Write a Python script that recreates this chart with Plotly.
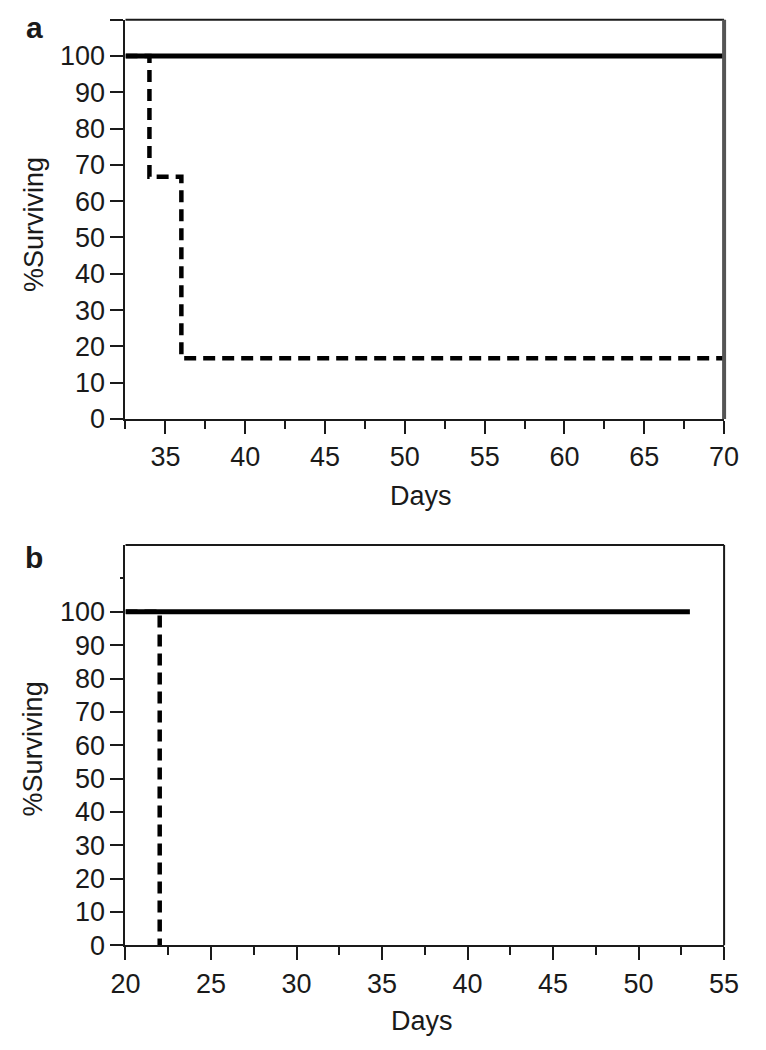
import plotly.graph_objects as go

# Panel a data
a_ctrl_days = [32.5, 70]
a_ctrl_surv = [100, 100]
a_trt_days = [32.5, 34, 36, 70]
a_trt_surv = [100, 66.7, 16.7, 16.7]

# Panel b data
b_ctrl_days = [20, 53]
b_ctrl_surv = [100, 100]
b_trt_days = [20, 22]
b_trt_surv = [100, 0]

a_xticks = [35, 40, 45, 50, 55, 60, 65, 70]
a_xminor = [32.5, 37.5, 42.5, 47.5, 52.5, 57.5, 62.5, 67.5]
b_xticks = [20, 25, 30, 35, 40, 45, 50, 55]
b_xminor = [22.5, 27.5, 32.5, 37.5, 42.5, 47.5, 52.5]
yticks = [0, 10, 20, 30, 40, 50, 60, 70, 80, 90, 100]

W, H = 766, 1050
FONT = "Liberation Sans, Arial, sans-serif"
TXT = "#1a1a1a"
FS = 27

fig = go.Figure()

dash = "12px,7px"
fig.add_trace(go.Scatter(x=a_trt_days, y=a_trt_surv, mode="lines", line_shape="hv",
                         line=dict(color="black", width=4.5, dash=dash), xaxis="x", yaxis="y", showlegend=False))
fig.add_trace(go.Scatter(x=a_ctrl_days, y=a_ctrl_surv, mode="lines",
                         line=dict(color="black", width=5), xaxis="x", yaxis="y", showlegend=False))
fig.add_trace(go.Scatter(x=b_trt_days, y=b_trt_surv, mode="lines", line_shape="hv",
                         line=dict(color="black", width=4.5, dash=dash), xaxis="x2", yaxis="y2", showlegend=False))
fig.add_trace(go.Scatter(x=b_ctrl_days, y=b_ctrl_surv, mode="lines",
                         line=dict(color="black", width=5), xaxis="x2", yaxis="y2", showlegend=False))

xdom = [115 / W, 738 / W]
ya_dom = [1 - 425 / H, 1 - 20 / H]
yb_dom = [1 - 959 / H, 1 - 553 / H]

common_ax = dict(showgrid=False, zeroline=False, showline=True, linecolor="#1a1a1a", linewidth=2,
                 ticks="outside", ticklen=13, tickwidth=2, tickcolor="#1a1a1a",
                 tickfont=dict(family=FONT, size=FS, color=TXT))

fig.update_layout(
    width=W, height=H, margin=dict(l=0, r=0, t=0, b=0),
    plot_bgcolor="white", paper_bgcolor="white",
    xaxis=dict(domain=xdom, range=[32.5, 70], tickvals=a_xticks, anchor="y",
               minor=dict(tickvals=a_xminor, ticklen=8, tickwidth=2, tickcolor="#1a1a1a", ticks="outside"),
               **common_ax),
    yaxis=dict(domain=ya_dom, range=[0, 110], tickvals=yticks + [110],
               ticktext=[str(v) for v in yticks] + [""], anchor="x", **common_ax),
    xaxis2=dict(domain=xdom, range=[20, 55], tickvals=b_xticks, anchor="y2",
                minor=dict(tickvals=b_xminor, ticklen=8, tickwidth=2, tickcolor="#1a1a1a", ticks="outside"),
                **common_ax),
    yaxis2=dict(domain=yb_dom, range=[0, 120], tickvals=yticks, anchor="x2",
                minor=dict(tickvals=[110], ticklen=3, tickwidth=2, tickcolor="#1a1a1a", ticks="outside"),
                **common_ax),
)

# frame lines (top and right)
fig.add_shape(type="line", xref="x domain", yref="y domain", x0=0, x1=1, y0=1, y1=1,
              line=dict(color="#1a1a1a", width=2))
fig.add_shape(type="line", xref="x domain", yref="y domain", x0=1, x1=1, y0=0, y1=1,
              line=dict(color="#555555", width=4))
fig.add_shape(type="line", xref="x2 domain", yref="y2 domain", x0=0, x1=1, y0=1, y1=1,
              line=dict(color="#1a1a1a", width=2))
fig.add_shape(type="line", xref="x2 domain", yref="y2 domain", x0=1, x1=1, y0=0, y1=1,
              line=dict(color="#1a1a1a", width=2))

def ann(text, x, y, size=FS, bold=False, angle=0):
    fig.add_annotation(text=f"<b>{text}</b>" if bold else text, xref="paper", yref="paper",
                       x=x / W, y=1 - y / H, showarrow=False, textangle=angle,
                       font=dict(family=FONT, size=size, color=TXT), xanchor="center", yanchor="middle")

ann("a", 20, 28, size=30, bold=True)
ann("b", 20, 566, size=30, bold=True)
ann("%Surviving", 19, 228, angle=-90)
ann("%Surviving", 19, 760, angle=-90)
ann("Days", 423, 503)
ann("Days", 424, 1036)

fig.write_html("out.html", config={"displayModeBar": False},
               post_script="document.body.style.margin='0';document.body.style.overflow='hidden';")
